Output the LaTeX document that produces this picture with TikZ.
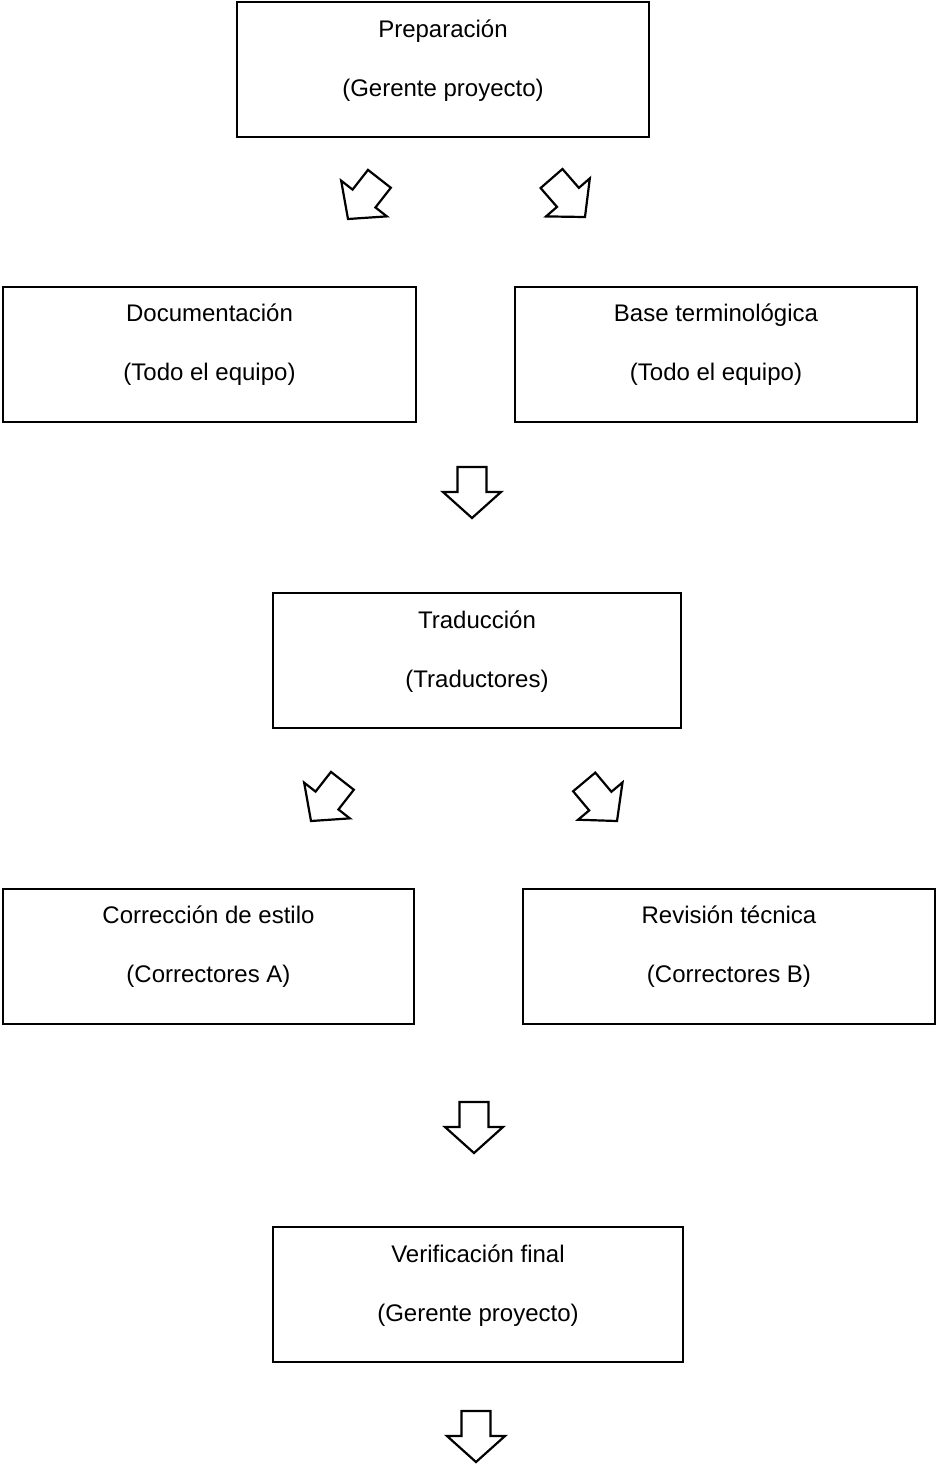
\documentclass[tikz,border=0pt]{standalone}
\usepackage{fontspec}
\setmainfont{Liberation Sans}
\usetikzlibrary{calc}
\tikzset{
  box/.style={draw, line width=1pt, rectangle, inner sep=0pt, minimum width=#1, minimum height=67.5pt},
  lbl/.style={anchor=base, inner sep=0pt, font=\fontsize{12}{14}\selectfont},
  arrowline/.style={draw, line width=1.1pt, line join=miter, fill=white},
  barrow/.pic={\path[arrowline] (0,0) -- (29,26) -- (14.5,26) -- (14.5,51) -- (-14.5,51) -- (-14.5,26) -- (-29,26) -- cycle;}
}
\begin{document}
\begin{tikzpicture}[x=0.5pt,y=0.5pt]
\useasboundingbox (0,0) rectangle (937,-1464);
% boxes
\node[box=206pt] (prep) at (443,-69.5) {};
\node[box=206.5pt] (doc) at (209.5,-354) {};
\node[box=201pt] (base) at (716,-354) {};
\node[box=204pt] (trad) at (477,-660.5) {};
\node[box=205.5pt] (corr) at (208.5,-956) {};
\node[box=206pt] (rev) at (729,-956) {};
\node[box=205pt] (verif) at (478,-1294.5) {};
% labels
\foreach \b/\ta/\tb in {prep/Preparación/(Gerente proyecto),
  doc/Documentación/(Todo el equipo),
  base/Base terminológica/(Todo el equipo),
  trad/Traducción/(Traductores),
  corr/Corrección de estilo/(Correctores A),
  rev/Revisión técnica/(Correctores B),
  verif/Verificación final/(Gerente proyecto)}{
  \node[lbl] (\b-a) at ($(\b.north)+(0,-36)$) {\ta};
  \node[lbl] (\b-b) at ($(\b.north)+(0,-95)$) {\tb};
}
% block arrows
\coordinate (a1) at (348,-219);
\coordinate (a2) at (585,-217);
\coordinate (a3) at (472,-518);
\coordinate (a4) at (311,-821);
\coordinate (a5) at (617,-821);
\coordinate (a6) at (474,-1153);
\coordinate (a7) at (476,-1462);
\pic[rotate=-38] at (a1) {barrow};
\pic[rotate=41] at (a2) {barrow};
\pic at (a3) {barrow};
\pic[rotate=-38] at (a4) {barrow};
\pic[rotate=40] at (a5) {barrow};
\pic at (a6) {barrow};
\pic at (a7) {barrow};
\end{tikzpicture}
\end{document}
